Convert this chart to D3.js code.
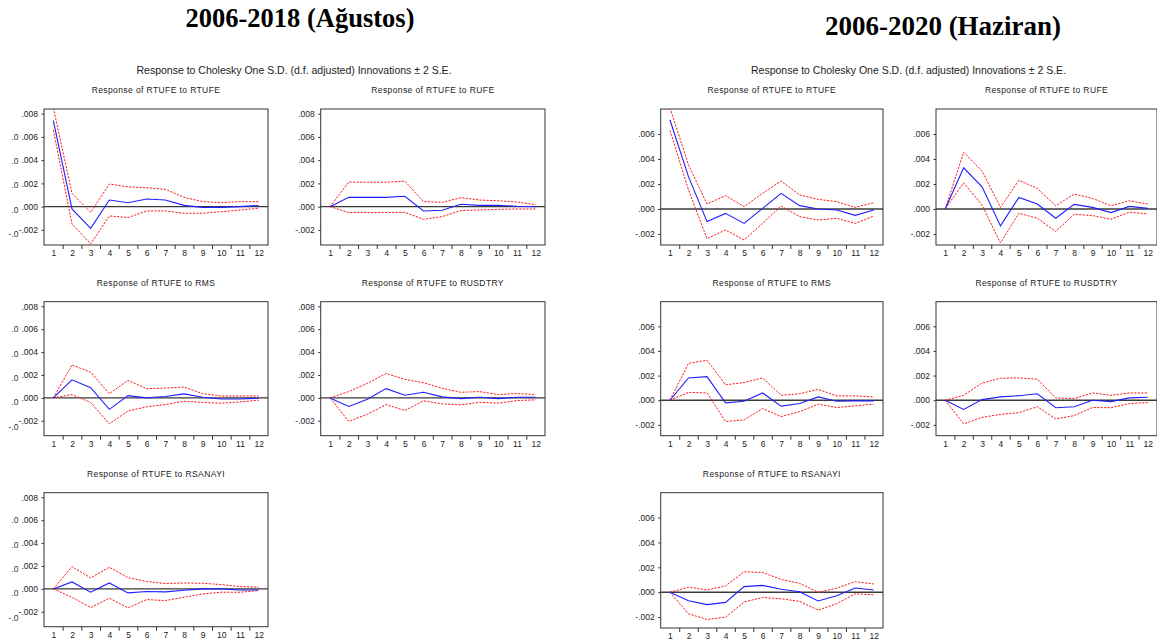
<!DOCTYPE html>
<html>
<head>
<meta charset="utf-8">
<script src="https://cdn.jsdelivr.net/npm/d3@7"></script>
<style>
  body { margin: 0; background: #fff; }
  svg { display: block; }
  .sans { font-family: "Liberation Sans", Arial, sans-serif; }
</style>
</head>
<body>
<svg id="chart" width="1157" height="644"></svg>
<script>
// Forecast horizon (periods) and the shocked variables
const periods = [1, 2, 3, 4, 5, 6, 7, 8, 9, 10, 11, 12];
const shocks = ["RTUFE", "RUFE", "RMS", "RUSDTRY", "RSANAYI"];

// Y tick labels (EViews style, no leading zero)
const ticks2018 = [0.008, 0.006, 0.004, 0.002, 0.000, -0.002];
const tickLabels2018 = [".008", ".006", ".004", ".002", ".000", "-.002"];
const ticks2020 = [0.006, 0.004, 0.002, 0.000, -0.002];
const tickLabels2020 = [".006", ".004", ".002", ".000", "-.002"];

// Truncated labels along the far left edge of the first column
const edgeTicks = [0.006, 0.004, 0.002, 0.000, -0.002];
const edgeLabels = [".0", ".0", ".0", ".0", "-.0"];

// ---- 2006-2018 (Ağustos): responses of RTUFE, with ±2 S.E. bands ----
const irf18_RTUFE = [0.0074, -0.0002, -0.00186, 0.00057, 0.00034, 0.00066, 0.00057, 0.00011, -0.00006, -0.00006, 0.0, 0.0001];
const up18_RTUFE  = [0.0085, 0.00114, -0.0005, 0.00194, 0.0017, 0.00163, 0.00149, 0.0008, 0.00043, 0.00034, 0.00043, 0.00043];
const lo18_RTUFE  = [0.0066, -0.00149, -0.0032, -0.0008, -0.00094, -0.00037, -0.00037, -0.00057, -0.00057, -0.00043, -0.00029, -0.00014];

const irf18_RUFE = [0, 0.0008, 0.0008, 0.0008, 0.00089, -0.00037, -0.00031, 0.0002, 0.00011, 0.00011, 0.00003, 0];
const up18_RUFE  = [0, 0.00211, 0.0021, 0.0021, 0.0022, 0.00043, 0.00037, 0.00077, 0.00057, 0.0005, 0.0004, 0.00017];
const lo18_RUFE  = [0, -0.00051, -0.00051, -0.00051, -0.00049, -0.00109, -0.00086, -0.00034, -0.00029, -0.00023, -0.0002, -0.0002];

const irf18_RMS = [0, 0.00158, 0.00089, -0.001, 0.0002, 0, 0.00012, 0.00035, 0.00006, -0.00009, -0.00009, -0.00003];
const up18_RMS  = [0, 0.00288, 0.00224, 0.00037, 0.00153, 0.0008, 0.00086, 0.00095, 0.00037, 0.00017, 0.00017, 0.00017];
const lo18_RMS  = [0, 0.00029, -0.0004, -0.00227, -0.00115, -0.00078, -0.00058, -0.00029, -0.0004, -0.00046, -0.00035, -0.0002];

const irf18_RUSDTRY = [0, -0.00075, -0.00012, 0.00081, 0.00023, 0.00049, 0.00009, -0.00006, 0.00006, -0.00006, 0.00006, 0.00006];
const up18_RUSDTRY  = [0, 0.00055, 0.00127, 0.00214, 0.00162, 0.00133, 0.00084, 0.00049, 0.00055, 0.00029, 0.00038, 0.00029];
const lo18_RUSDTRY  = [0, -0.00205, -0.00142, -0.00058, -0.0011, -0.00026, -0.00052, -0.00061, -0.00038, -0.00046, -0.00023, -0.00017];

const irf18_RSANAYI = [0, 0.00061, -0.00029, 0.00052, -0.00035, -0.00023, -0.00026, -0.00012, 0, 0, -0.00009, -0.00009];
const up18_RSANAYI  = [0, 0.00195, 0.00096, 0.00189, 0.00099, 0.00064, 0.00047, 0.00052, 0.00049, 0.00038, 0.0002, 0.00015];
const lo18_RSANAYI  = [0, -0.00073, -0.00163, -0.00081, -0.00166, -0.00093, -0.00102, -0.00073, -0.00044, -0.00029, -0.00029, -0.00015];

// ---- 2006-2020 (Haziran) ----
const irf20_RTUFE = [0.00712, 0.00259, -0.00101, -0.00035, -0.00115, 0.00005, 0.00125, 0.00027, 0, -0.00008, -0.00051, -0.00008];
const up20_RTUFE  = [0.0081, 0.00352, 0.0004, 0.00107, 0.00019, 0.00125, 0.00224, 0.00112, 0.00077, 0.00059, 0.00013, 0.0005];
const lo20_RTUFE  = [0.0063, 0.00152, -0.00237, -0.00168, -0.00248, -0.00115, 0.00024, -0.00061, -0.00088, -0.00075, -0.00115, -0.00056];

const irf20_RUFE = [0, 0.0033, 0.00177, -0.00135, 0.00092, 0.0004, -0.00074, 0.00037, 0.00013, -0.00029, 0.00021, 0.00005];
const up20_RUFE  = [0, 0.00454, 0.00304, 0.00013, 0.0023, 0.00164, 0.00026, 0.00119, 0.00085, 0.00026, 0.00066, 0.0004];
const lo20_RUFE  = [0, 0.00209, 0.00032, -0.00272, -0.00034, -0.00074, -0.0018, -0.00042, -0.00053, -0.00082, -0.00026, -0.0004];

const irf20_RMS = [0, 0.00181, 0.00192, -0.00021, -0.00008, 0.00059, -0.00048, -0.00027, 0.00027, -0.00008, -0.00005, -0.00005];
const up20_RMS  = [0, 0.00299, 0.00325, 0.00125, 0.00144, 0.00181, 0.0004, 0.00053, 0.00088, 0.00035, 0.00035, 0.00027];
const lo20_RMS  = [0, 0.00064, 0.00059, -0.00173, -0.0016, -0.00067, -0.00133, -0.00093, -0.00032, -0.00059, -0.00045, -0.00032];

const irf20_RUSDTRY = [0, -0.00075, 0.00005, 0.00027, 0.00037, 0.00053, -0.00061, -0.00053, 0, -0.00011, 0.00019, 0.00024];
const up20_RUSDTRY  = [0, 0.0004, 0.00139, 0.00179, 0.00181, 0.00171, 0.00019, 0.00013, 0.00059, 0.0004, 0.00059, 0.00059];
const lo20_RUSDTRY  = [0, -0.00192, -0.00139, -0.00115, -0.00101, -0.00053, -0.00152, -0.00125, -0.00059, -0.00061, -0.00027, -0.00019];

const irf20_RSANAYI = [0, -0.00069, -0.001, -0.00082, 0.00045, 0.00055, 0.00024, 0.00003, -0.00071, -0.00029, 0.00034, 0.00018];
const up20_RSANAYI  = [0, 0.0004, 0.00018, 0.0005, 0.00164, 0.00159, 0.00103, 0.00071, 0, 0.00032, 0.00085, 0.00066];
const lo20_RSANAYI  = [0, -0.00174, -0.00219, -0.00201, -0.00079, -0.00042, -0.00053, -0.00074, -0.00145, -0.00092, -0.00013, -0.00021];

const series18 = [
  [irf18_RTUFE, up18_RTUFE, lo18_RTUFE],
  [irf18_RUFE, up18_RUFE, lo18_RUFE],
  [irf18_RMS, up18_RMS, lo18_RMS],
  [irf18_RUSDTRY, up18_RUSDTRY, lo18_RUSDTRY],
  [irf18_RSANAYI, up18_RSANAYI, lo18_RSANAYI]
];
const series20 = [
  [irf20_RTUFE, up20_RTUFE, lo20_RTUFE],
  [irf20_RUFE, up20_RUFE, lo20_RUFE],
  [irf20_RMS, up20_RMS, lo20_RMS],
  [irf20_RUSDTRY, up20_RUSDTRY, lo20_RUSDTRY],
  [irf20_RSANAYI, up20_RSANAYI, lo20_RSANAYI]
];

const subtitle = "Response to Cholesky One S.D. (d.f. adjusted) Innovations \u00B1 2 S.E.";

const groups = [
  {
    id: "g18", title: "2006-2018 (Ağustos)", titleX: 300, titleY: 27, titleSize: 26.5,
    subX: 294, subY: 74, subSize: 10.5,
    cols: [[44, 268], [320.7, 545]],
    rows: [[109, 245], [301.7, 435.7], [492.7, 626.7]],
    yDomain: [-0.0033, 0.0084],
    ticks: ticks2018, tickLabels: tickLabels2018, edge: true,
    series: series18
  },
  {
    id: "g20", title: "2006-2020 (Haziran)", titleX: 943, titleY: 35, titleSize: 27,
    subX: 908.5, subY: 74, subSize: 10.5,
    cols: [[660.7, 883], [936, 1157]],
    rows: [[109, 245], [301.7, 435.7], [492.7, 628]],
    yDomain: [-0.00288, 0.008],
    ticks: ticks2020, tickLabels: tickLabels2020, edge: false,
    series: series20
  }
];

const svg = d3.select("#chart");
const defs = svg.append("defs");

groups.forEach(g => {
  const root = svg.append("g").attr("id", g.id);

  root.append("text")
    .attr("x", g.titleX).attr("y", g.titleY)
    .attr("text-anchor", "middle")
    .style("font-family", "'Liberation Serif', 'Times New Roman', serif")
    .style("font-weight", "bold")
    .style("font-size", g.titleSize + "px")
    .attr("fill", "#000")
    .text(g.title);

  root.append("text")
    .attr("class", "sans")
    .attr("x", g.subX).attr("y", g.subY)
    .attr("text-anchor", "middle")
    .style("font-size", g.subSize + "px")
    .attr("fill", "#222")
    .text(subtitle);

  shocks.forEach((shock, k) => {
    const [x0, x1] = g.cols[k % 2];
    const [y0, y1] = g.rows[Math.floor(k / 2)];
    const [irf, up, lo] = g.series[k];

    const x = d3.scalePoint().domain(periods).range([x0, x1]).padding(0.5);
    const xEdge = d3.scaleLinear().domain([0.5, 12.5]).range([x0, x1]);
    const y = d3.scaleLinear().domain(g.yDomain).range([y1, y0]);

    const panel = root.append("g");
    const clipId = `${g.id}-clip-${k}`;
    defs.append("clipPath").attr("id", clipId)
      .append("rect").attr("x", x0).attr("y", y0).attr("width", x1 - x0).attr("height", y1 - y0);

    panel.append("text")
      .attr("class", "sans")
      .attr("x", (x0 + x1) / 2).attr("y", y0 - 16)
      .attr("text-anchor", "middle")
      .style("font-size", "8.5px")
      .style("letter-spacing", "0.4px")
      .attr("fill", "#222")
      .text(`Response of RTUFE to ${shock}`);

    // zero line
    panel.append("line")
      .attr("x1", x0).attr("x2", x1)
      .attr("y1", y(0)).attr("y2", y(0))
      .attr("stroke", "#3a3a3a").attr("stroke-width", 1.4);

    const line = d3.line().x((d, i) => x(periods[i])).y(d => y(d));
    const plot = panel.append("g").attr("clip-path", `url(#${clipId})`);

    [up, lo].forEach(band => {
      plot.append("path").datum(band)
        .attr("d", line)
        .attr("fill", "none")
        .attr("stroke", "#ff1a1a")
        .attr("stroke-width", 1)
        .attr("stroke-dasharray", "2.2,1.3");
    });
    plot.append("path").datum(irf)
      .attr("d", line)
      .attr("fill", "none")
      .attr("stroke", "#1f1fff")
      .attr("stroke-width", 1.1);

    // frame
    panel.append("rect")
      .attr("x", x0).attr("y", y0)
      .attr("width", x1 - x0).attr("height", y1 - y0)
      .attr("fill", "none").attr("stroke", "#333").attr("stroke-width", 1);

    // y axis
    const yAxis = panel.append("g")
      .attr("class", "sans")
      .attr("transform", `translate(${x0},0)`)
      .call(d3.axisLeft(y).tickValues(g.ticks)
        .tickFormat((d, i) => g.tickLabels[i])
        .tickSize(2.5).tickPadding(3.5));
    yAxis.select(".domain").remove();
    yAxis.selectAll("text").style("font-size", "8.5px").attr("fill", "#222").style("font-family", "'Liberation Sans', Arial, sans-serif");
    yAxis.selectAll("line").attr("stroke", "#333");

    // x axis labels (period numbers)
    const xAxis = panel.append("g")
      .attr("transform", `translate(0,${y1})`)
      .call(d3.axisBottom(x).tickSize(0).tickPadding(5));
    xAxis.select(".domain").remove();
    xAxis.selectAll("text").style("font-size", "8.5px").attr("fill", "#222").style("font-family", "'Liberation Sans', Arial, sans-serif");

    // tick marks between periods
    const xTicks = panel.append("g")
      .attr("transform", `translate(0,${y1})`)
      .call(d3.axisBottom(xEdge).tickValues(periods.slice(1).map(p => p - 0.5))
        .tickFormat("").tickSize(4));
    xTicks.select(".domain").remove();
    xTicks.selectAll("line").attr("stroke", "#333");

    // truncated labels on the page edge (left column only)
    if (g.edge && k % 2 === 0) {
      const yEdge = d3.scaleLinear().domain([0, 0.002]).range([y0 + 101, y0 + 76.6]);
      panel.append("g").selectAll("text")
        .data(edgeTicks)
        .join("text")
        .attr("class", "sans")
        .attr("x", 18.5)
        .attr("y", d => yEdge(d))
        .attr("dy", "0.32em")
        .attr("text-anchor", "end")
        .style("font-size", "8.5px")
        .attr("fill", "#333")
        .text((d, i) => edgeLabels[i]);
    }
  });
});
</script>
</body>
</html>
